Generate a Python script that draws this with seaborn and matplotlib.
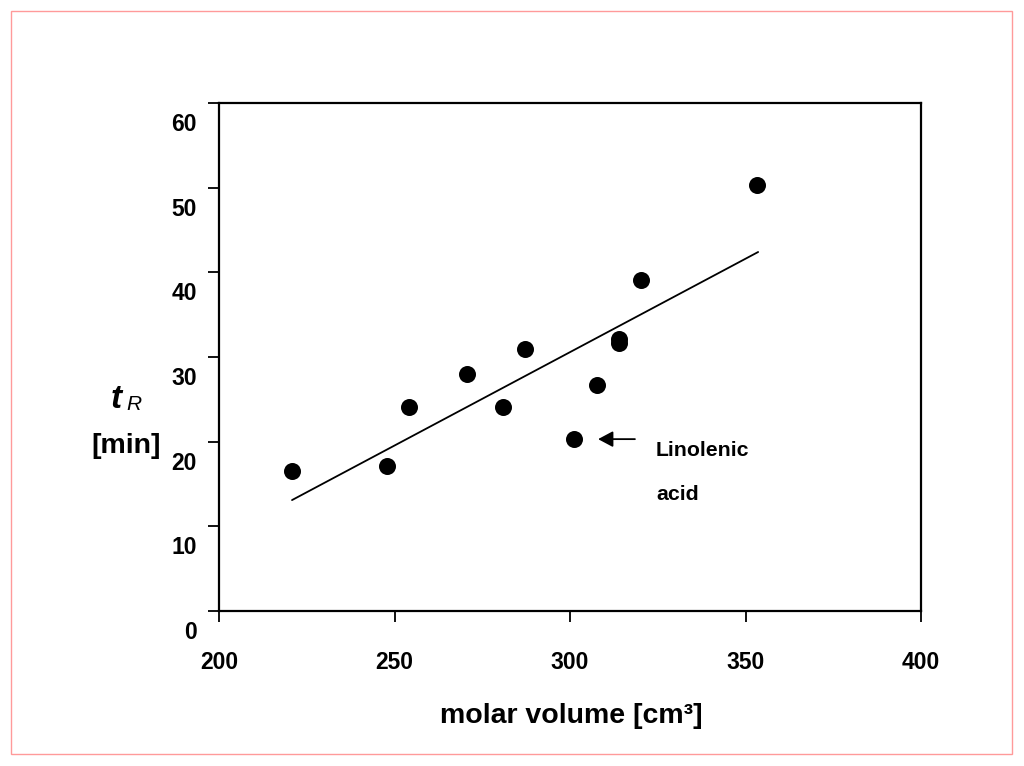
import matplotlib
matplotlib.use("Agg")
import matplotlib.pyplot as plt
import matplotlib.transforms as mtransforms
from matplotlib.patches import Rectangle
import seaborn as sns
import pandas as pd

# Data
molar_volume = [220.8, 247.9, 254.1, 270.7, 280.9, 287.2, 301.1, 307.7, 314.0, 314.0, 320.2, 353.3]
retention_time = [16.5, 17.1, 24.1, 28.0, 24.1, 31.0, 20.3, 26.7, 32.1, 31.6, 39.1, 50.3]
fit_x = [220.8, 353.6]
fit_y = [13.1, 42.4]
x_ticks = [200, 250, 300, 350, 400]
y_ticks = [0, 10, 20, 30, 40, 50, 60]
arrow_head = (308.0, 20.3)
arrow_tail = (318.5, 20.3)
annotation_lines = ["Linolenic", "acid"]

sns.set_theme(style="white")
plt.rcParams["font.family"] = ["Liberation Sans", "DejaVu Sans"]
plt.rcParams["text.color"] = "black"
plt.rcParams["xtick.color"] = "black"
plt.rcParams["ytick.color"] = "black"
plt.rcParams["axes.labelcolor"] = "black"

fig = plt.figure(figsize=(10.24, 7.66), dpi=100)
ax = fig.add_axes([219/1024, 1-611/766, (921-219)/1024, (611-103)/766])

df = pd.DataFrame({"mv": molar_volume, "tr": retention_time})
sns.lineplot(x=fit_x, y=fit_y, ax=ax, color="black", linewidth=1.3)
sns.scatterplot(data=df, x="mv", y="tr", ax=ax, color="black", s=150,
                edgecolor="black", linewidth=0, zorder=3)

ax.set_xlim(200, 400)
ax.set_ylim(0, 60)
ax.set_xticks(x_ticks)
ax.set_yticks(y_ticks)
ax.set_xticklabels([str(v) for v in x_ticks], fontsize=16.5, fontweight="bold",
                   color="black")
ax.set_yticklabels([str(v) for v in y_ticks], fontsize=16.5, fontweight="bold",
                   color="black")
ax.tick_params(axis="both", direction="out", length=8, width=1.3, color="black",
               left=True, bottom=True)
ax.tick_params(axis="x", pad=21)
ax.tick_params(axis="y", pad=8)
for sp in ax.spines.values():
    sp.set_visible(True)
    sp.set_color("black")
    sp.set_linewidth(1.6)
ax.set_xlabel("")
ax.set_ylabel("")

# shift y tick labels downward as in the reference
off = mtransforms.ScaledTranslation(0, -19/100, fig.dpi_scale_trans)
for lbl in ax.get_yticklabels():
    lbl.set_transform(lbl.get_transform() + off)

# x label
fig.text(571/1024, 1-716/766, "molar volume [cm³]", ha="center", va="center",
         fontsize=20.5, fontweight="bold", color="black")
# y label
fig.text(116/1024, 1-399/766, "t", ha="center", va="center", fontsize=24,
         fontweight="bold", style="italic", color="black")
fig.text(134/1024, 1-405/766, "R", ha="center", va="center", fontsize=15,
         style="italic", color="black")
fig.text(126/1024, 1-446/766, "[min]", ha="center", va="center", fontsize=20.5,
         fontweight="bold", color="black")

# annotation
ax.annotate("", xy=arrow_head, xytext=arrow_tail,
            arrowprops=dict(arrowstyle="-|>,head_length=0.6,head_width=0.32",
                            color="black", lw=1.3,
                            mutation_scale=15, shrinkA=0, shrinkB=0))
ax.text(324.5, 19.0, annotation_lines[0], ha="left", va="center", fontsize=15.3,
        fontweight="bold", color="black")
ax.text(324.5, 13.8, annotation_lines[1], ha="left", va="center", fontsize=15.3,
        fontweight="bold", color="black")

# pink frame around figure
fig.patches.append(Rectangle((11/1024, 1-754/766), (1012-11)/1024, (754-11)/766,
                             transform=fig.transFigure, fill=False,
                             edgecolor="#ff9a9a", linewidth=1.0))

fig.savefig("out.png", dpi=100)
